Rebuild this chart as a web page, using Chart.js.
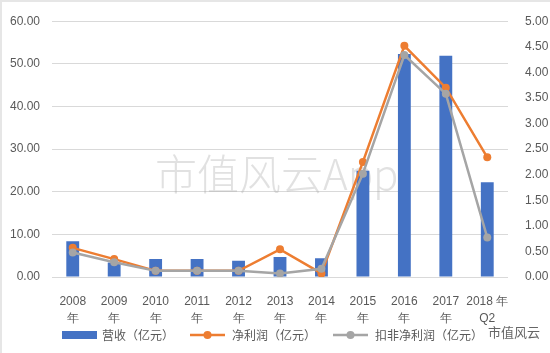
<!DOCTYPE html>
<html>
<head>
<meta charset="utf-8">
<script src="https://cdn.jsdelivr.net/npm/chart.js@4"></script>
<style>
  html, body { margin: 0; padding: 0; background: #fff; }
  #wrap { width: 550px; height: 353px; position: relative; box-sizing: border-box; border-left: 2px solid #e6e6e6; border-top: 2px solid #e6e6e6; }
</style>
</head>
<body>
<div id="wrap"><canvas id="myChart" width="548" height="351"></canvas></div>
<script>
let categories = [["2008", "年"], ["2009", "年"], ["2010", "年"], ["2011", "年"], ["2012", "年"], ["2013", "年"], ["2014", "年"], ["2015", "年"], ["2016", "年"], ["2017", "年"], ["2018 年", "Q2"]];
let revenue = [8.4, 3.4, 4.2, 4.2, 3.8, 4.7, 4.4, 24.9, 52.3, 51.9, 22.2];
let netProfit = [0.57, 0.35, 0.12, 0.12, 0.12, 0.54, 0.07, 2.25, 4.52, 3.70, 2.34];
let netProfitDeducted = [0.48, 0.29, 0.12, 0.12, 0.12, 0.07, 0.16, 2.02, 4.34, 3.58, 0.77];
let seriesNames = ["营收（亿元）", "净利润（亿元）", "扣非净利润（亿元）"];

let textColor = "#595959";
let tickFont = { family: "'Liberation Sans', sans-serif", size: 12 };

// watermark behind the bars
let watermark = {
  id: "watermark",
  beforeDatasetsDraw(chart) {
    let ctx = chart.ctx;
    ctx.save();
    ctx.fillStyle = "rgba(170,170,170,0.35)";
    ctx.font = "300 42px 'Noto Sans CJK SC'";
    ctx.textBaseline = "alphabetic";
    ctx.fillText("市值风云App", 153, 188);
    ctx.restore();
  },
};

// legend drawn by hand: wide blue box, lines with a dot
let myLegend = {
  id: "myLegend",
  afterDraw(chart) {
    let ctx = chart.ctx;
    let y = 333;
    ctx.save();
    ctx.font = "12px 'Noto Sans CJK SC'";
    ctx.fillStyle = textColor;
    ctx.textBaseline = "middle";

    ctx.fillStyle = "#4472C4";
    ctx.fillRect(60, y - 4, 35, 8);
    ctx.fillStyle = textColor;
    ctx.fillText(seriesNames[0], 100, y);

    let items = [
      { x: 188, color: "#ED7D31", text: seriesNames[1] },
      { x: 331, color: "#A5A5A5", text: seriesNames[2] },
    ];
    items.forEach((it) => {
      ctx.strokeStyle = it.color;
      ctx.lineWidth = 2.5;
      ctx.beginPath();
      ctx.moveTo(it.x, y);
      ctx.lineTo(it.x + 35, y);
      ctx.stroke();
      ctx.fillStyle = it.color;
      ctx.beginPath();
      ctx.arc(it.x + 17.5, y, 4, 0, Math.PI * 2);
      ctx.fill();
      ctx.fillStyle = textColor;
      ctx.fillText(it.text, it.x + 42, y);
    });

    ctx.fillStyle = "#666";
    ctx.font = "13px 'Noto Sans CJK SC'";
    ctx.fillText("市值风云", 486, y - 3);
    ctx.restore();
  },
};

let myChart = document.getElementById("myChart").getContext("2d");
new Chart(myChart, {
  type: "bar",
  data: {
    labels: categories,
    datasets: [
      {
        label: seriesNames[1],
        type: "line",
        data: netProfit,
        yAxisID: "y1",
        borderColor: "#ED7D31",
        backgroundColor: "#ED7D31",
        borderWidth: 2.5,
        pointRadius: 4,
        pointBorderWidth: 0,
        tension: 0,
        order: 1,
      },
      {
        label: seriesNames[2],
        type: "line",
        data: netProfitDeducted,
        yAxisID: "y1",
        borderColor: "#A5A5A5",
        backgroundColor: "#A5A5A5",
        borderWidth: 2.5,
        pointRadius: 4,
        pointBorderWidth: 0,
        tension: 0,
        order: 0,
      },
      {
        label: seriesNames[0],
        data: revenue,
        yAxisID: "y",
        backgroundColor: "#4472C4",
        barPercentage: 0.62,
        categoryPercentage: 0.5,
        order: 2,
      },
    ],
  },
  options: {
    responsive: false,
    animation: false,
    layout: { padding: { top: 6, left: 0, right: 0, bottom: 0 } },
    plugins: {
      legend: { display: false },
      tooltip: { enabled: false },
    },
    scales: {
      x: {
        grid: { display: false },
        border: { display: false },
        ticks: { color: textColor, font: { family: tickFont.family, size: 12, lineHeight: 1.45 }, maxRotation: 0, autoSkip: false, padding: 8 },
        afterFit(axis) { axis.height = 76; },
      },
      y: {
        position: "left",
        min: 0,
        max: 60,
        ticks: { stepSize: 10, color: textColor, font: tickFont, padding: 12, callback: (v) => v.toFixed(2) },
        grid: { color: "#d9d9d9", drawTicks: false },
        border: { display: false },
        afterFit(axis) { axis.width = 50; },
      },
      y1: {
        position: "right",
        min: 0,
        max: 5,
        ticks: { stepSize: 0.5, color: textColor, font: tickFont, padding: 9, callback: (v) => v.toFixed(2) },
        grid: { display: false },
        border: { display: false },
        afterFit(axis) { axis.width = 42; },
      },
    },
  },
  plugins: [watermark, myLegend],
});
</script>
</body>
</html>
